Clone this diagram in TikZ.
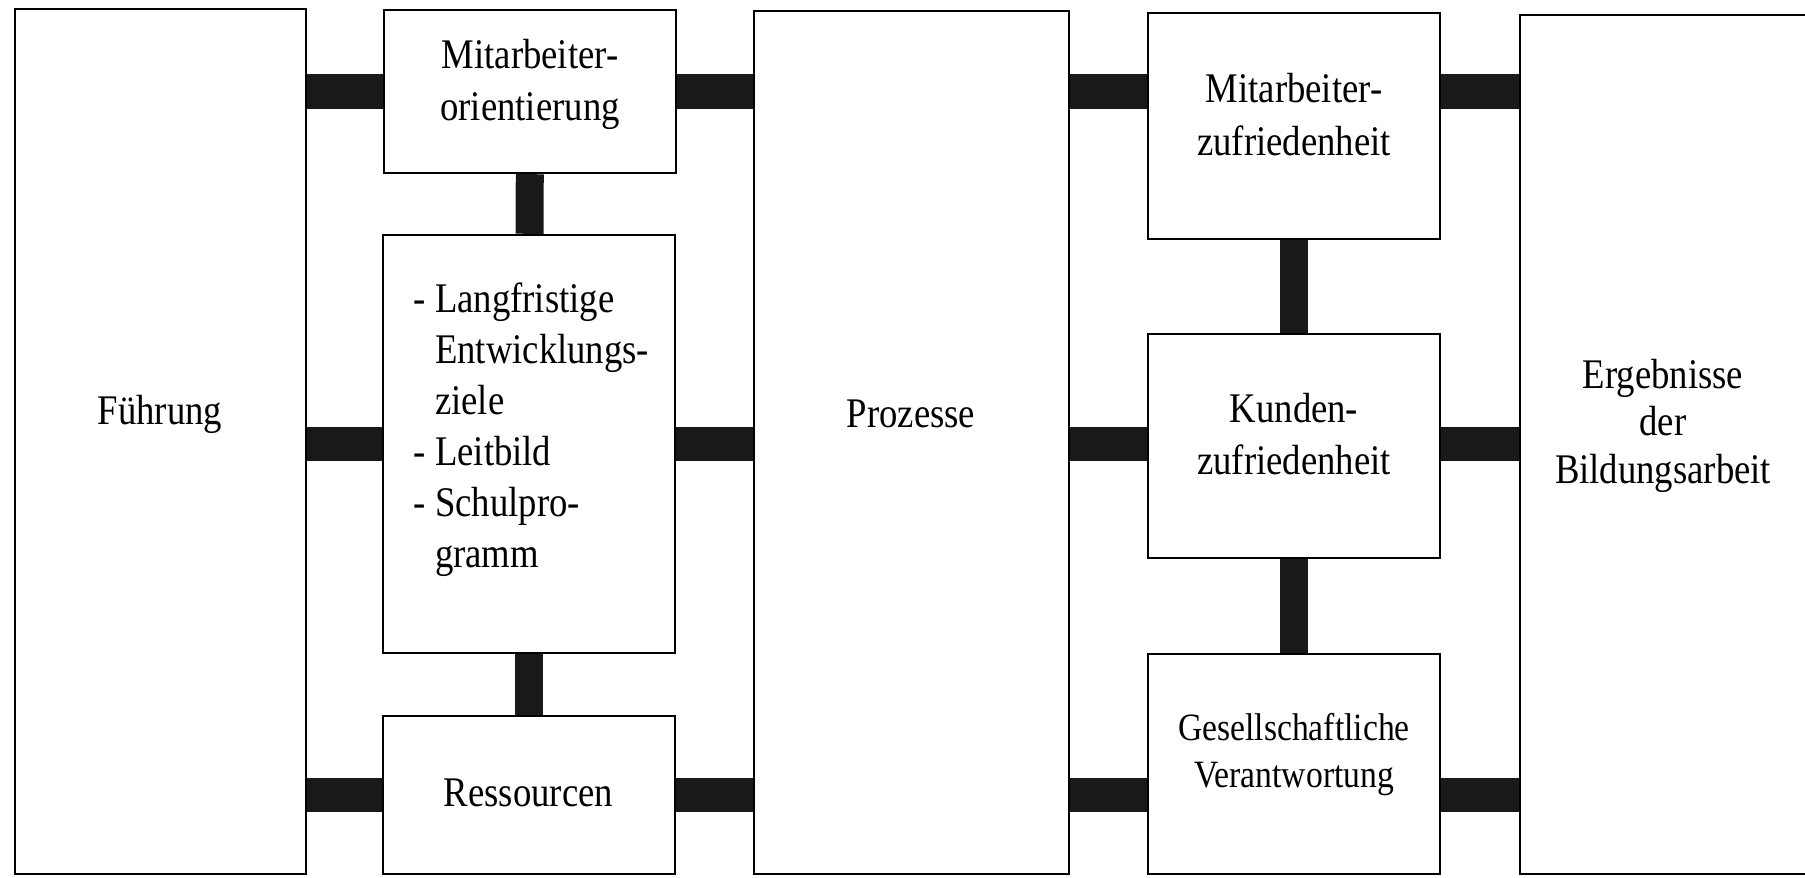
\documentclass[tikz,border=0pt]{standalone}
\usepackage{fontspec}
\setmainfont{Liberation Serif}[FakeStretch=0.87]
\usepackage{tikz}
\usetikzlibrary{positioning}
\tikzstyle{box} = [rectangle, 
minimum width=2.92cm, 
draw=black, 
line width=0.7pt, 
inner sep=0pt]
\tikzstyle{txt} = [inner sep=0pt, 
align=center, 
font=\fontsize{12}{15}\selectfont]
\tikzstyle{bar} = [line width=0.345cm, draw=black!90]
\tikzstyle{vbar} = [line width=0.28cm, draw=black!90]

\begin{document}
\begin{tikzpicture}
        \useasboundingbox (0,0) rectangle (18.05,8.77);

        % Kaesten
        \node (fuehrung) [box, minimum width=2.91cm, minimum height=8.65cm] at (1.605,4.355) {};
        \node (orient) [box, minimum height=1.63cm] at (5.30,7.855) {};
        \node (leitziele) [box, minimum height=4.18cm] at (5.29,4.33) {};
        \node (ressourcen) [box, minimum height=1.58cm] at (5.29,0.82) {};
        \node (prozesse) [box, minimum width=3.15cm, minimum height=8.63cm] at (9.115,4.345) {};
        \node (zufrma) [box, minimum height=2.26cm] at (12.94,7.51) {};
        \node (kunden) [box, minimum height=2.24cm] at (12.94,4.31) {};
        \node (gesell) [box, minimum height=2.20cm] at (12.94,1.13) {};
        \node (ergebnis) [box, minimum width=2.90cm, minimum height=8.59cm] at (16.65,4.325) {};

        % Texte
        \node (fuehrung_txt) [txt, anchor=base] at (1.60,4.53) {Führung};
        \node (orient_txt) [txt] at (5.30,7.925) {Mitarbeiter-\\orientierung};
        \node (leit_txt) [txt, anchor=west, font=\fontsize{12}{14.5}\selectfont] at (4.13,4.47)
            {\begin{tabular}{@{}l@{ }l@{}}
            -&Langfristige\\ &Entwicklungs-\\ &ziele\\
            -&Leitbild\\ -&Schulpro-\\ &gramm
            \end{tabular}};
        \node (ress_txt) [txt, anchor=base] at (5.285,0.71) {Ressourcen};
        \node (proz_txt) [txt, anchor=base] at (9.11,4.50) {Prozesse};
        \node (zufrma_txt) [txt] at (12.94,7.625) {Mitarbeiter-\\zufriedenheit};
        \node (kunden_txt) [txt] at (12.94,4.43) {Kunden-\\zufriedenheit};
        \node (gesell_txt) [txt, font=\fontsize{11}{13.3}\selectfont] at (12.94,1.225) {Gesellschaftliche\\Verantwortung};
        \node (ergebnis_txt) [txt, font=\fontsize{12}{13.5}\selectfont] at (16.63,4.515) {Ergebnisse\\der\\Bildungsarbeit};

        % Verbindungen
        \draw [bar] (fuehrung.east |- orient) -- (orient.west);
        \draw [bar] (fuehrung.east |- leitziele) -- (leitziele.west);
        \draw [bar] (fuehrung.east |- ressourcen) -- (ressourcen.west);
        \draw [bar] (orient.east) -- (prozesse.west |- orient);
        \draw [bar] (leitziele.east) -- (prozesse.west |- leitziele);
        \draw [bar] (ressourcen.east) -- (prozesse.west |- ressourcen);
        \draw [bar] (prozesse.east |- orient) -- (zufrma.west |- orient);
        \draw [bar] (prozesse.east |- leitziele) -- (kunden.west |- leitziele);
        \draw [bar] (prozesse.east |- ressourcen) -- (gesell.west |- ressourcen);
        \draw [bar] (zufrma.east |- orient) -- (ergebnis.west |- orient);
        \draw [bar] (kunden.east |- leitziele) -- (ergebnis.west |- leitziele);
        \draw [bar] (gesell.east |- ressourcen) -- (ergebnis.west |- ressourcen);
        \draw [vbar] (orient) -- (leitziele);
        \draw [vbar] (leitziele) -- (ressourcen);
        \draw [vbar] (zufrma) -- (kunden);
        \draw [vbar] (kunden) -- (gesell);

    \end{tikzpicture}
\end{document}
